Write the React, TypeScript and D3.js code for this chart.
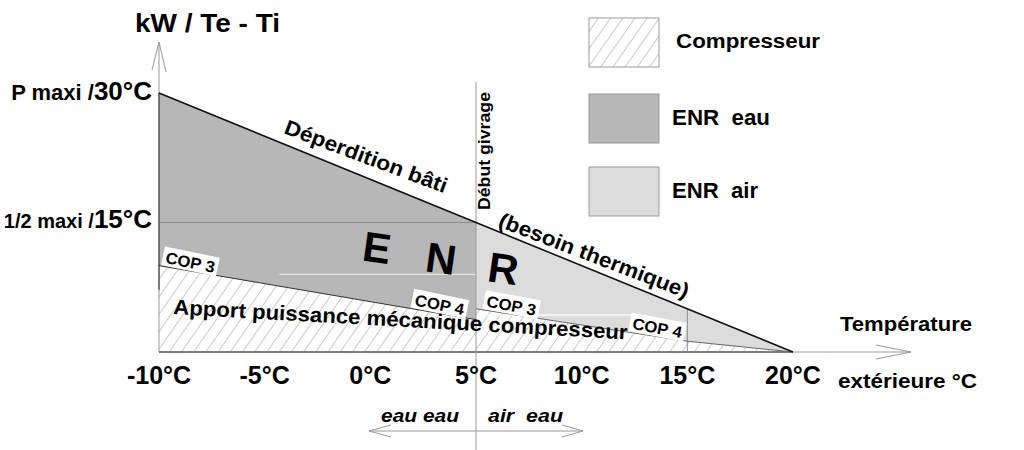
import React from "react";
import * as d3 from "d3";

// ---- data ----
const X_TICKS = [-10, -5, 0, 5, 10, 15, 20];
const NEED_T = [-10, 5, 20]; // outdoor temperature (°C)
const NEED_KW = [30, 15, 0]; // building heat loss
const EAU_T = [-10, 5];
const EAU_COMP_KW = [10, 3.75]; // compressor power, water source (COP 3 -> COP 4)
const AIR_T = [5, 15, 20];
const AIR_COMP_KW = [5, 1.25, 0]; // compressor power, air source (COP 3 -> COP 4)
const Y_LABELS = [
  { kw: 30, small: "P maxi /", big: "30°C" },
  { kw: 15, small: "1/2 maxi /", big: "15°C" },
];
const COP_LABELS = [
  { text: "COP 3", T: -9.9, side: "eau" },
  { text: "COP 4", T: 1.9, side: "eau" },
  { text: "COP 3", T: 5.3, side: "air" },
  { text: "COP 4", T: 12.2, side: "air" },
];
const LEGEND = [
  { label: "Compresseur", kind: "hatch" },
  { label: "ENR\u00a0\u00a0eau", kind: "eau" },
  { label: "ENR\u00a0\u00a0air", kind: "air" },
];

const FONT = "'Liberation Sans', Arial, Helvetica, sans-serif";
const EAU_FILL = "#b7b7b7";
const AIR_FILL = "#dcdcdc";

export default function App() {
  const x = d3.scaleLinear().domain([-10, 20]).range([159, 793]);
  const y = d3.scaleLinear().domain([0, 30]).range([352, 93]);

  const needPts = NEED_T.map((t, i) => ({ t, need: NEED_KW[i] }));
  const needAt = (t: number) => d3.scaleLinear().domain(NEED_T).range(NEED_KW)(t);

  const eauPts = EAU_T.map((t, i) => ({ t, need: needAt(t), comp: EAU_COMP_KW[i] }));
  const airPts = AIR_T.map((t, i) => ({ t, need: needAt(t), comp: AIR_COMP_KW[i] }));
  const compPts = [...eauPts, ...airPts];

  const enrArea = d3
    .area<{ t: number; need: number; comp: number }>()
    .x((d) => x(d.t))
    .y0((d) => y(d.comp))
    .y1((d) => y(d.need));
  const compArea = d3
    .area<{ t: number; need: number; comp: number }>()
    .x((d) => x(d.t))
    .y0(() => y(0))
    .y1((d) => y(d.comp));
  const needLine = d3
    .line<{ t: number; need: number }>()
    .x((d) => x(d.t))
    .y((d) => y(d.need));
  const compLine = d3
    .line<{ t: number; comp: number }>()
    .x((d) => x(d.t))
    .y((d) => y(d.comp));

  const compEauAt = d3.scaleLinear().domain(EAU_T).range(EAU_COMP_KW);
  const compAirAt = d3.scaleLinear().domain(AIR_T).range(AIR_COMP_KW);

  const angle = (p0: [number, number], p1: [number, number]) =>
    (Math.atan2(p1[1] - p0[1], p1[0] - p0[0]) * 180) / Math.PI;
  const eauAngle = angle([x(EAU_T[0]), y(EAU_COMP_KW[0])], [x(EAU_T[1]), y(EAU_COMP_KW[1])]);
  const airAngle = angle([x(AIR_T[0]), y(AIR_COMP_KW[0])], [x(AIR_T[1]), y(AIR_COMP_KW[1])]);

  const axisGray = "#9a9a9a";
  const x0 = x(-10);
  const yBase = y(0);
  const xGivrage = x(5);

  return (
    <svg
      width={1024}
      height={450}
      style={{ position: "absolute", left: 0, top: 0, background: "#fff" }}
      fontFamily={FONT}
      fontWeight="bold"
    >
      <defs>
        <pattern
          id="hatch"
          patternUnits="userSpaceOnUse"
          width={10}
          height={10}
          patternTransform="rotate(35)"
        >
          <rect width={10} height={10} fill="#fff" />
          <line x1={0} y1={0} x2={0} y2={10} stroke="#b4b4b4" strokeWidth={1.4} />
        </pattern>
      </defs>

      {/* areas */}
      <path d={compArea(compPts) || ""} fill="url(#hatch)" />
      <path d={enrArea(eauPts) || ""} fill={EAU_FILL} />
      <path d={enrArea(airPts) || ""} fill={AIR_FILL} />

      {/* faint interior lines */}
      <line x1={x0} x2={xGivrage} y1={y(15)} y2={y(15)} stroke="#8c8c8c" strokeWidth={1} />
      <line x1={x(-4.3)} x2={xGivrage} y1={y(9)} y2={y(9)} stroke="#e4e4e4" strokeWidth={1.2} />
      <line x1={x(5.2)} x2={x(12.5)} y1={y(4.3)} y2={y(4.3)} stroke="#fafafa" strokeWidth={1.5} />

      {/* left edge of the ENR eau region */}
      <line x1={x0} x2={x0} y1={y(30)} y2={y(7.2)} stroke="#222" strokeWidth={1.5} />

      {/* axes */}
      <line x1={x0} x2={x0} y1={yBase} y2={42} stroke={axisGray} strokeWidth={1} />
      <polyline points={`152,70 ${x0},42 166,72`} fill="none" stroke={axisGray} strokeWidth={1} />
      <line x1={x0} x2={911} y1={yBase} y2={yBase} stroke={axisGray} strokeWidth={1} />
      <line x1={x0} x2={x(20)} y1={yBase} y2={yBase} stroke="#7c7c7c" strokeWidth={2} />
      <polyline points={`876,345 911,352 876,359`} fill="none" stroke={axisGray} strokeWidth={1} />

      {/* vertical guide lines */}
      <line x1={xGivrage} x2={xGivrage} y1={82} y2={450} stroke={axisGray} strokeWidth={1} />
      <line x1={x(15)} x2={x(15)} y1={y(needAt(15))} y2={yBase} stroke="#8c8c8c" strokeWidth={1} />

      {/* compressor (COP) lines and heat need line */}
      <path d={compLine(eauPts) || ""} fill="none" stroke="#333" strokeWidth={1} />
      <path d={compLine(airPts) || ""} fill="none" stroke="#666" strokeWidth={1} />
      <path d={needLine(needPts) || ""} fill="none" stroke="#111" strokeWidth={1.6} />

      {/* COP labels */}
      {COP_LABELS.map((c, i) => {
        const kw = c.side === "eau" ? compEauAt(c.T) : compAirAt(c.T);
        const a = (c.side === "eau" ? eauAngle : airAngle) + 2;
        return (
          <g key={i} transform={`translate(${x(c.T)},${y(kw) - 1}) rotate(${a})`}>
            <rect x={0} y={-19} width={56} height={19} fill="#fff" />
            <text x={3} y={-3} fontSize={16} textLength={50} lengthAdjust="spacingAndGlyphs" fill="#000">
              {c.text}
            </text>
          </g>
        );
      })}

      {/* E N R */}
      {[
        { ch: "E", T: 0.22, kw: 10.4 },
        { ch: "N", T: 3.25, kw: 9.15 },
        { ch: "R", T: 6.2, kw: 7.99 },
      ].map((l) => (
        <text
          key={l.ch}
          transform={`translate(${x(l.T)},${y(l.kw)}) rotate(8)`}
          textAnchor="middle"
          fontSize={42}
          fill="#000"
        >
          {l.ch}
        </text>
      ))}

      {/* rotated annotations */}
      <text
        transform={`translate(${x(-4.13)},${y(25.37)}) rotate(20.5)`}
        fontSize={21}
        textLength={172}
        lengthAdjust="spacingAndGlyphs"
      >
        Déperdition bâti
      </text>
      <text
        transform={`translate(${x(6.0)},${y(14.6)}) rotate(21)`}
        fontSize={21}
        textLength={202}
        lengthAdjust="spacingAndGlyphs"
      >
        (besoin thermique)
      </text>
      <text
        transform={`translate(${x(-9.34)},${y(4.4)}) rotate(3.2)`}
        fontSize={21}
        textLength={455}
        lengthAdjust="spacingAndGlyphs"
      >
        Apport puissance mécanique compresseur
      </text>
      <text
        transform={`translate(${xGivrage + 14},210) rotate(-90)`}
        fontSize={16}
        textLength={118}
        lengthAdjust="spacingAndGlyphs"
      >
        Début givrage
      </text>

      {/* y axis title and labels */}
      <text x={135} y={32} fontSize={25} textLength={145} lengthAdjust="spacingAndGlyphs">
        kW / Te - Ti
      </text>
      {Y_LABELS.map((l) => (
        <text key={l.kw} x={152} y={y(l.kw) + (l.kw === 30 ? 7 : 5)} textAnchor="end">
          <tspan fontSize={l.kw === 30 ? 22 : 20}>{l.small}</tspan>
          <tspan fontSize={26}>{l.big}</tspan>
        </text>
      ))}

      {/* x tick labels */}
      {X_TICKS.map((t) => (
        <text key={t} x={x(t)} y={384} textAnchor="middle" fontSize={25}>
          {`${t}°C`}
        </text>
      ))}
      <text x={840} y={331} fontSize={21} textLength={132} lengthAdjust="spacingAndGlyphs">
        Température
      </text>
      <text x={838} y={388} fontSize={21} textLength={139} lengthAdjust="spacingAndGlyphs">
        extérieure °C
      </text>

      {/* bottom source arrows */}
      <text x={381} y={422} fontSize={19} fontStyle="italic" textLength={78} lengthAdjust="spacingAndGlyphs">
        eau eau
      </text>
      <text x={488} y={422} fontSize={19} fontStyle="italic" textLength={75} lengthAdjust="spacingAndGlyphs">
        {"air\u00a0\u00a0eau"}
      </text>
      <line x1={369} x2={583} y1={431} y2={431} stroke={axisGray} strokeWidth={1} />
      <polyline points="391,425 369,431 391,437" fill="none" stroke={axisGray} strokeWidth={1} />
      <polyline points="562,425 583,431 562,437" fill="none" stroke={axisGray} strokeWidth={1} />

      {/* legend */}
      {LEGEND.map((l, i) => {
        const top = [18, 94, 167][i];
        const fill = l.kind === "hatch" ? "url(#hatch)" : l.kind === "eau" ? EAU_FILL : AIR_FILL;
        return (
          <g key={l.label}>
            <rect x={589} y={top} width={70} height={49} fill={fill} stroke="#9a9a9a" strokeWidth={1} />
            <text
              x={i === 0 ? 676 : 672}
              y={[48, 125, 198][i]}
              fontSize={i === 0 ? 20 : 22}
              textLength={[144, 98, 86][i]}
              lengthAdjust="spacingAndGlyphs"
            >
              {l.label}
            </text>
          </g>
        );
      })}
    </svg>
  );
}
